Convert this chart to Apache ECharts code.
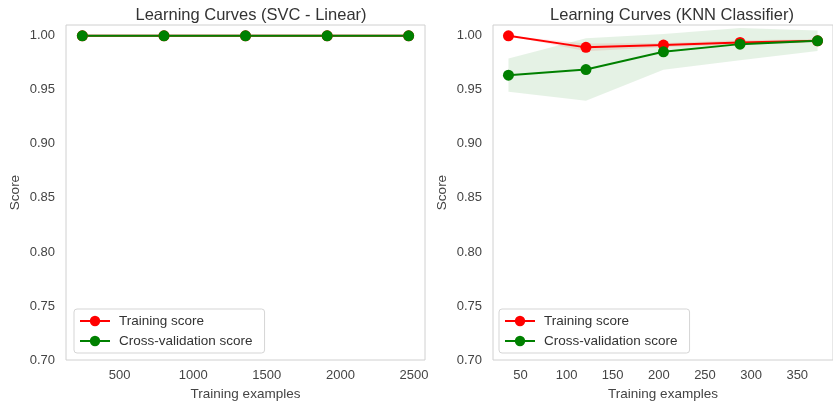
<!DOCTYPE html>
<html>
<head>
<meta charset="utf-8">
<script src="https://cdn.jsdelivr.net/npm/echarts@6/dist/echarts.min.js"></script>
<style>
  html, body { margin: 0; padding: 0; background: #fff; }
  #main { width: 833px; height: 406px; }
</style>
</head>
<body>
<div id="main"></div>
<script>
// values
var svcSizes = [246, 801, 1355, 1910, 2464];
var svcTrain = [1.0, 1.0, 1.0, 1.0, 1.0];
var svcTrainStd = [0, 0, 0, 0, 0];
var svcTest = [1.0, 1.0, 1.0, 1.0, 1.0];
var svcTestStd = [0, 0, 0, 0, 0];

var knnSizes = [37, 121, 205, 288, 372];
var knnTrain = [1.0, 0.9893, 0.9914, 0.9938, 0.9954];
var knnTrainStd = [0, 0.0035, 0.002, 0.002, 0.0015];
var knnTest = [0.9636, 0.9688, 0.9852, 0.9923, 0.9954];
var knnTestStd = [0.0154, 0.029, 0.0165, 0.0150, 0.0095];

var yTicks = [0.70, 0.75, 0.80, 0.85, 0.90, 0.95, 1.00];
var svcTicks = [500, 1000, 1500, 2000, 2500];
var knnTicks = [50, 100, 150, 200, 250, 300, 350];

var FONT = '"Liberation Sans", Arial, sans-serif';
var RED = '#ff0000', GREEN = '#008000';

function pairs(xs, ys) {
    return xs.map(function (x, i) { return [x, ys[i]]; });
}

// mean +/- std band drawn as one polygon through the axis scales
function band(idx, xs, mean, std, color) {
    var rows = xs.map(function (x, i) { return [x, mean[i] - std[i], mean[i] + std[i]]; });
    return {
        type: 'custom', xAxisIndex: idx, yAxisIndex: idx, silent: true, z: 1,
        data: rows, encode: { x: 0, y: [1, 2] },
        renderItem: function (params, api) {
            if (params.dataIndex !== 0) return null;
            var top = [], bottom = [];
            rows.forEach(function (r) {
                top.push(api.coord([r[0], r[2]]));
                bottom.unshift(api.coord([r[0], r[1]]));
            });
            return {
                type: 'polygon',
                shape: { points: top.concat(bottom) },
                style: { fill: color, opacity: 0.1 }
            };
        }
    };
}

function curve(idx, name, xs, ys, color) {
    return {
        type: 'line', name: name, xAxisIndex: idx, yAxisIndex: idx,
        data: pairs(xs, ys), symbol: 'circle', symbolSize: 11,
        itemStyle: { color: color }, lineStyle: { color: color, width: 2 }, z: 3
    };
}

function xAxis(idx, min, max, ticks) {
    return {
        type: 'value', gridIndex: idx, min: min, max: max,
        name: 'Training examples', nameLocation: 'middle', nameGap: 27,
        nameTextStyle: { fontFamily: FONT, fontSize: 13.5, color: '#444' },
        axisLine: { show: false }, axisTick: { show: false }, splitLine: { show: false },
        axisLabel: {
            customValues: ticks, margin: 9, fontFamily: FONT, fontSize: 13, color: '#444',
            formatter: function (v) { return String(v); }
        }
    };
}

function yAxis(idx) {
    return {
        type: 'value', gridIndex: idx, min: 0.7, max: 1.01,
        name: 'Score', nameLocation: 'middle', nameGap: 44,
        nameTextStyle: { fontFamily: FONT, fontSize: 13.5, color: '#444' },
        axisLine: { show: false }, axisTick: { show: false }, splitLine: { show: false },
        axisLabel: {
            customValues: yTicks, margin: 11, fontFamily: FONT, fontSize: 13, color: '#444',
            formatter: function (v) { return v.toFixed(2); }
        }
    };
}

function legend(left) {
    return {
        left: left, top: 309, orient: 'vertical',
        data: ['Training score', 'Cross-validation score'],
        itemWidth: 30, itemHeight: 13, itemGap: 6,
        padding: [5, 12, 5, 5],
        backgroundColor: 'rgba(255,255,255,0.8)',
        borderColor: '#d5d5d5', borderWidth: 1, borderRadius: 3,
        textStyle: { fontFamily: FONT, fontSize: 13.5, color: '#333', padding: [0, 0, 0, 4] }
    };
}

var myChart = echarts.init(document.getElementById('main'));
myChart.setOption({
    animation: false,
    backgroundColor: '#fff',
    title: [
        { text: 'Learning Curves (SVC - Linear)', left: 246, top: 2, textAlign: 'center',
          textStyle: { fontFamily: FONT, fontSize: 16.5, fontWeight: 'normal', color: '#333' } },
        { text: 'Learning Curves (KNN Classifier)', left: 667, top: 2, textAlign: 'center',
          textStyle: { fontFamily: FONT, fontSize: 16.5, fontWeight: 'normal', color: '#333' } }
    ],
    legend: [legend(74), legend(499)],
    grid: [
        { left: 66, top: 25, width: 359, height: 335, show: true, borderColor: '#d0d0d0', borderWidth: 1, backgroundColor: '#fff' },
        { left: 493, top: 25, width: 346, height: 335, show: true, borderColor: '#d0d0d0', borderWidth: 1, backgroundColor: '#fff' }
    ],
    xAxis: [xAxis(0, 135, 2575, svcTicks), xAxis(1, 20.25, 388.75, knnTicks)],
    yAxis: [yAxis(0), yAxis(1)],
    series: [
        band(0, svcSizes, svcTrain, svcTrainStd, RED),
        band(0, svcSizes, svcTest, svcTestStd, GREEN),
        band(1, knnSizes, knnTrain, knnTrainStd, RED),
        band(1, knnSizes, knnTest, knnTestStd, GREEN),
        curve(0, 'Training score', svcSizes, svcTrain, RED),
        curve(0, 'Cross-validation score', svcSizes, svcTest, GREEN),
        curve(1, 'Training score', knnSizes, knnTrain, RED),
        curve(1, 'Cross-validation score', knnSizes, knnTest, GREEN)
    ]
});
</script>
</body>
</html>
